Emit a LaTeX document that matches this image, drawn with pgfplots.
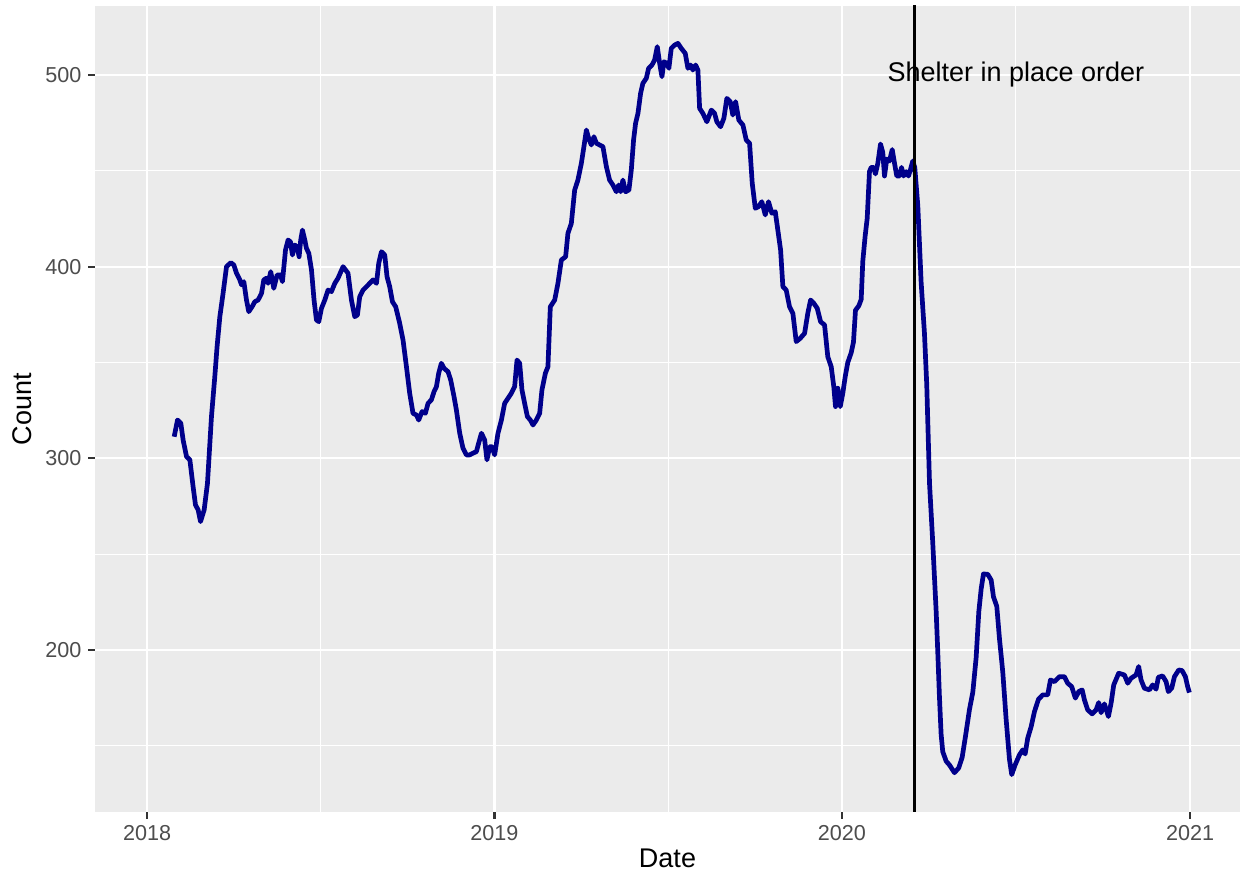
\documentclass[border=0pt]{standalone}
\usepackage{fontspec}
\setmainfont{Liberation Sans}
\usepackage{pgfplots}
\pgfplotsset{compat=1.18}
\definecolor{panelbg}{HTML}{EBEBEB}
\definecolor{tickgray}{HTML}{333333}
\definecolor{labgray}{HTML}{4D4D4D}
\definecolor{linecol}{HTML}{00008B}
\begin{document}
\begin{tikzpicture}
\begin{axis}[
  scale only axis, width=572.5pt, height=403pt,
  xmin=-54.8, xmax=1148.5, ymin=115.5, ymax=536,
  axis background/.style={fill=panelbg},
  axis line style={draw=none},
  xtick={0,365,730,1096}, xticklabels={2018,2019,2020,2021},
  minor xtick={182.5,547.5,913},
  ytick={200,300,400,500}, yticklabels={200,300,400,500},
  minor ytick={150,250,350,450},
  grid=both,
  major grid style={white, line width=1.1pt},
  minor grid style={white, line width=0.55pt},
  tick align=outside, major tick length=3.3pt, minor tick length=0pt,
  tick style={color=tickgray, line width=1.1pt},
  tick label style={font=\fontsize{10.8}{12}\selectfont, text=labgray},
  xtick pos=bottom, ytick pos=left,
  clip=true,
]
\addplot[color=linecol, line width=2.35pt, line join=round] coordinates {
(28.4,311.3) (31.9,320) (35.4,318.3) (37.8,309.6) (41.4,300.9) (44.9,299.2)
(48.3,285.2) (50.8,275.7) (53.6,273.1) (56.1,267) (59.9,273.1) (63.4,287)
(67.6,321.8) (71.1,342.6) (73.5,358.3) (76.4,373.9) (79.8,386.1) (83.4,400)
(87.9,402.1) (91.1,400.9) (93.9,396.6) (97.4,393.1) (99.2,390.5) (101.6,392.2)
(104.4,382.6) (106.8,376.5) (110.3,379.1) (113.1,381.7) (116.6,382.6) (120.2,386.1)
(122.6,393.1) (125.4,394) (127.1,391.3) (129.9,397.4) (133.1,388.7) (136.6,395.7)
(140.1,395.7) (142.2,392.2) (145.4,408.7) (148.1,413.9) (150.6,413) (152.7,406.1)
(155.1,411.3) (157.6,410.4) (159.7,405.2) (161.4,413.9) (163.2,419.1) (165.7,413.9)
(167.4,409.6) (169.9,407) (172.7,398.3) (175.4,382.6) (177.9,372.2) (180.4,371.3)
(183.2,378.3) (186.7,382.6) (190.1,387.8) (193.7,387) (197.2,391.3) (200.6,394)
(205.9,400) (211.1,396.6) (214.7,382.6) (218.2,373.9) (221,374.8) (223.4,384.3)
(226.9,387.8) (230.5,389.6) (233.9,391.3) (237.4,393.1) (241,391.3) (243.4,401.8)
(246.2,407.8) (249.7,406.1) (252.1,394.8) (254.9,389.6) (257.8,381.7) (261.2,379.1)
(265.4,370.5) (268.9,361.8) (272.5,347.8) (275.9,334) (279.4,323.5) (283,322.6)
(285.4,320) (288.9,324.4) (292.4,323.5) (295.2,328.7) (298.7,330.5) (301.5,334.8)
(304,337.4) (306.4,344.4) (309.2,349.6) (312,347) (316.2,345.2) (319,340.9)
(322.5,332.2) (325,325.2) (328.5,313.1) (331.9,305.3) (335.5,301.8) (339,301.8)
(342.4,302.7) (346,303.5) (348.4,307.9) (351.3,313.1) (354.7,309.6) (357.1,299.2)
(360,306.1) (362.4,306.1) (365.2,301.8) (368.7,313.1) (372.3,320) (375.7,328.7)
(379.2,331.3) (382.8,334) (386.2,337.4) (388.7,351.3) (391.5,349.6) (393.9,335.7)
(396.7,328.7) (399.6,321.8) (402.7,320) (405.5,317.4) (409,320) (412.5,323.5)
(414.9,335.7) (418.5,344.4) (421.2,347.8) (423.7,379.1) (428.3,382.6) (431.7,391.3)
(435.3,403.5) (439.8,405.2) (442.2,417.4) (445.8,422.6) (449.3,440) (452.7,445.2)
(456.3,453.9) (459,462.6) (461.6,471.3) (464,467) (466.8,463.5) (469.5,467.8)
(472.1,464.4) (475.5,463.5) (479,462.6) (482.6,452.2) (486,445.2) (489.5,442.6)
(493.1,439.1) (495.5,442.6) (497.6,439.1) (500,445.2) (502.8,439.1) (506.3,440)
(508.8,450.4) (511.2,466.1) (513.3,474.8) (515.8,480) (518.6,490.5) (521,495.7)
(524.6,498.3) (527,503.5) (530.5,505.2) (533.3,507.8) (536.1,514.8) (538.6,506.1)
(541,499.1) (543.1,506.9) (546.2,506.1) (548.3,503.5) (550.8,513.9) (554.3,515.6)
(557.8,516.5) (561.3,513.9) (565.5,511.3) (568.3,503.5) (571.1,505.2) (573.5,502.6)
(576.4,505.2) (578.8,502.6) (580.6,482.6) (584,480) (588.2,475.6) (592.9,481.7)
(596.3,480) (598.7,475.6) (602.6,473) (606.1,477.4) (609.2,487.8) (612.8,486.1)
(615.5,479.1) (618.4,486.1) (621.8,476.5) (626.1,473.9) (629.6,466.1) (633.1,464.4)
(635.9,443.5) (639.1,430.5) (642.5,431.3) (646,433.9) (649.6,427) (653,433.9)
(656.5,427.9) (660.1,428.7) (662.8,419.1) (665.7,408.7) (668.1,389.6) (671.6,387.8)
(675.1,379.1) (678.6,375.7) (682.1,360.9) (686.3,362.6) (690.9,365.2) (694.3,375.7)
(697.2,382.6) (700.6,380.9) (704.2,378.3) (707.7,371.3) (711.9,369.6) (715.3,353)
(718.9,347.8) (721.6,337.4) (723.4,327) (725.8,336.6) (728.4,327) (731.1,334)
(733.6,342.6) (736.3,350) (739.9,355.1) (742.3,360.7) (744.4,377.3) (747.9,379.6)
(750.4,382.9) (752.1,402.9) (754.6,416.2) (756.7,425.1) (759.1,449.6) (760.9,451.8)
(763.3,451.8) (765.4,448.4) (767.9,454) (770.7,464) (773.1,459.6) (774.9,447.3)
(777.3,456.2) (780.1,455.1) (783,461.1) (785.4,454) (787.8,447.3) (790.7,447.3)
(792.8,451.8) (794.9,447.3) (797.7,449.6) (800.1,447.3) (802.2,450.7) (804.6,455.1)
(806.7,451.8) (809.9,431.8) (813.4,391.8) (816.9,365.1) (819.3,338.4) (822.2,287)
(825.6,256) (827.4,238) (829.2,220) (830.8,200) (832.6,176) (834.4,156)
(836.1,147) (839.7,142) (843.2,140) (848.4,136) (852.9,138.5) (856.5,144)
(860,155) (864.2,169) (867.7,178) (871.2,196) (874,220) (876.5,232)
(878.9,239.7) (883.4,239.5) (887,236.5) (889.4,227.8) (892.9,222.8) (895.7,206)
(899.2,188.5) (902.7,164) (906.2,143) (908.6,135) (912.2,140.1) (916.7,145.3)
(920.2,147.9) (922.7,145.8) (925.4,154) (929,160) (932.5,167.9) (936.7,174.3)
(941.2,176.6) (946.4,176.6) (949.3,184.4) (953.5,183.5) (958.7,186.1) (964,186.1)
(967.4,182.7) (971.6,180.9) (975.5,174.9) (979,178.3) (982.6,179.2) (985,174)
(988.4,168.8) (993.1,166.7) (997.3,168.8) (1000,172.6) (1002.5,167.3) (1006,171.9)
(1010.2,165.3) (1013,172.2) (1015.8,181.8) (1021,187.9) (1027,187) (1030.5,182.7)
(1034,185.3) (1039.3,187) (1042,191.4) (1044.5,184.4) (1048,180.1) (1053.3,179.2)
(1056.7,181.8) (1060.3,179.6) (1062.7,185.8) (1067.2,186.5) (1070.8,183.5) (1073.2,178.3)
(1076.7,180.1) (1079.6,186.1) (1084.1,189.6) (1087.6,189.3) (1091.1,186.1) (1093.5,180.9)
(1095.3,177.8)
};
\addplot[black, line width=1.4pt] coordinates {(806.7,100) (806.7,600)};
\node[font=\fontsize{13.5}{15}\selectfont, text=black] at (axis cs:913,500) {Shelter in place order};
\end{axis}
\node[font=\fontsize{13.5}{15}\selectfont, rotate=90] at ([xshift=-36.5pt]current axis.west) {Count};
\node[font=\fontsize{13.5}{15}\selectfont] at ([yshift=-23pt]current axis.south) {Date};
\pgfresetboundingbox
\path[use as bounding box] ([xshift=-47.5pt,yshift=-32.5pt]current axis.south west) rectangle ([xshift=0.5pt,yshift=3pt]current axis.north east);
\end{tikzpicture}
\end{document}
